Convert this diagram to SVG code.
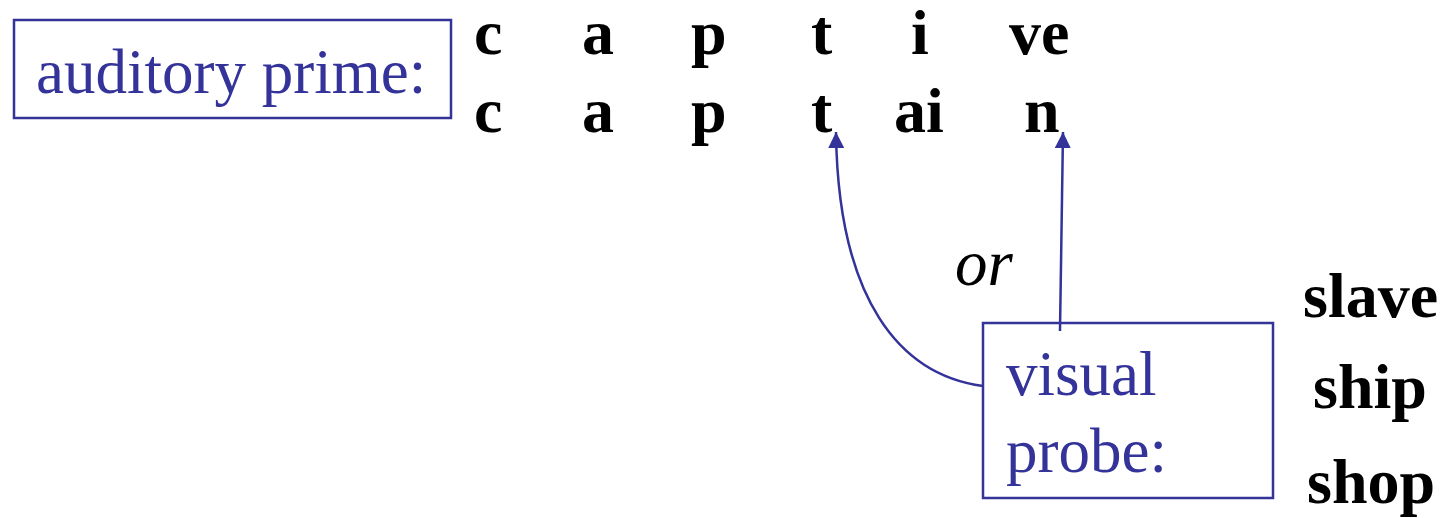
<svg xmlns="http://www.w3.org/2000/svg" width="1442" height="518" viewBox="0 0 1442 518">
<style>
.box{fill:none;stroke:#333399;stroke-width:2.5}
.lbl{font-family:"Liberation Serif",serif;font-size:63px;fill:#333399}
.seg{font-family:"Liberation Serif",serif;font-size:64px;font-weight:bold;fill:#000}
.or{font-family:"Liberation Serif",serif;font-size:65px;font-style:italic;fill:#000}
.conn{fill:none;stroke:#333399;stroke-width:2.5}
</style>
<defs>
<marker id="ah" viewBox="0 0 16 16" refX="16" refY="8" markerWidth="16" markerHeight="16" markerUnits="userSpaceOnUse" orient="auto">
<path d="M0,0 L16,8 L0,16 z" fill="#333399"/>
</marker>
</defs>
<g id="prime">
<rect class="box" x="14" y="20" width="437" height="98"/>
<text class="lbl" x="36" y="93">auditory prime:</text>
</g>
<g id="captive">
<text class="seg" x="474" y="54">c</text>
<text class="seg" x="582" y="54">a</text>
<text class="seg" x="691" y="54">p</text>
<text class="seg" x="811" y="54">t</text>
<text class="seg" x="911" y="54">i</text>
<text class="seg" x="1009" y="54">ve</text>
</g>
<g id="captain">
<text class="seg" x="474" y="132">c</text>
<text class="seg" x="582" y="132">a</text>
<text class="seg" x="691" y="132">p</text>
<text class="seg" x="811" y="132">t</text>
<text class="seg" x="894" y="132">ai</text>
<text class="seg" x="1024" y="132">n</text>
</g>
<g id="or">
<text class="or" x="955" y="285">or</text>
</g>
<g id="probe">
<rect class="box" x="983" y="323" width="290" height="175"/>
<text class="lbl" x="1006" y="395">visual</text>
<text class="lbl" x="1006" y="472">probe:</text>
</g>
<g id="words">
<text class="seg" x="1303" y="317">slave</text>
<text class="seg" x="1313" y="408">ship</text>
<text class="seg" x="1307" y="503">shop</text>
</g>
<g id="connectors">
<path class="conn" d="M983,386 C900,375 838,300 836,132" marker-end="url(#ah)"/>
<path class="conn" d="M1060,331 L1063,132" marker-end="url(#ah)"/>
</g>
</svg>
